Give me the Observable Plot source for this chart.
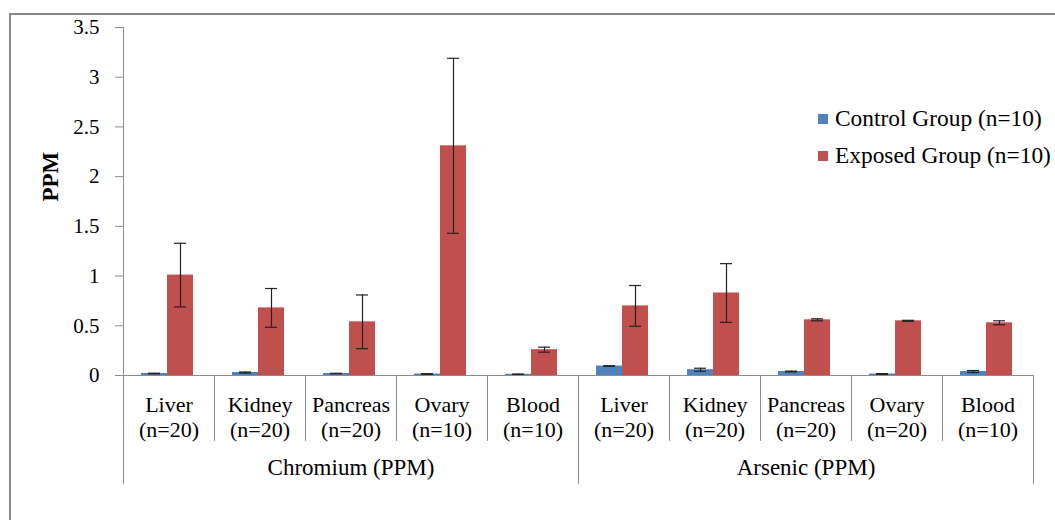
<!DOCTYPE html>
<html><head><meta charset="utf-8">
<script src="https://cdn.jsdelivr.net/npm/d3@7"></script>
<script src="https://cdn.jsdelivr.net/npm/@observablehq/plot@0.6"></script>
<style>
html,body{margin:0;padding:0;background:#fff;}
#wrap{position:relative;width:1055px;height:520px;overflow:hidden;background:#fff;}
#border{position:absolute;left:9px;top:13px;width:2000px;height:2000px;border-left:2px solid #898989;border-top:2px solid #898989;pointer-events:none;}
#legend{position:absolute;left:818px;top:106px;font-size:23.4px;color:#000;}
.row{display:flex;align-items:center;height:24px;white-space:nowrap;}
.row + .row{margin-top:13.3px;}
.sw{width:10px;height:10px;margin-right:7px;position:relative;top:1px;}
</style></head><body><div id="wrap"><div id="border"></div><div id="legend"></div></div>
<script>
const metals = ["Chromium (PPM)", "Arsenic (PPM)"];
const organs = ["Liver", "Kidney", "Pancreas", "Ovary", "Blood"];
const sampleSizes = [[20, 20, 20, 10, 10], [20, 20, 20, 20, 10]];
const seriesNames = ["Control Group (n=10)", "Exposed Group (n=10)"];
const controlMeans = [[0.02, 0.03, 0.02, 0.015, 0.012], [0.095, 0.058, 0.04, 0.015, 0.04]];
const controlErr   = [[0.003, 0.005, 0.002, 0.003, 0.002], [0.003, 0.015, 0.004, 0.004, 0.01]];
const exposedMeans = [[1.01, 0.68, 0.54, 2.31, 0.26], [0.70, 0.83, 0.56, 0.55, 0.53]];
const exposedErr   = [[0.32, 0.195, 0.27, 0.88, 0.025], [0.205, 0.295, 0.01, 0.005, 0.02]];
const yTicks = [0, 0.5, 1, 1.5, 2, 2.5, 3, 3.5];
const colors = ["#4F81BD", "#C0504D"];

const FONT = "'Liberation Serif', Tinos, 'Times New Roman', Times, serif";
document.getElementById("wrap").style.fontFamily = FONT;

const cats = [];
const rows = [];
metals.forEach((metal, gi) => {
  organs.forEach((organ, oi) => {
    const key = metal + "|" + organ;
    cats.push({key, metal, organ, n: sampleSizes[gi][oi], gi, oi});
    rows.push({key, series: seriesNames[0], mean: controlMeans[gi][oi], err: controlErr[gi][oi]});
    rows.push({key, series: seriesNames[1], mean: exposedMeans[gi][oi], err: exposedErr[gi][oi]});
  });
});

const W = 1055, H = 520, mL = 122, mR = 21, mT = 27, mB = 145;
const frameH = H - mT - mB;
const sepShort = 65, sepLong = 108;
const axisGray = "#8c8c8c";
const lineShape = {draw(ctx, l) { ctx.moveTo(0, 0); ctx.lineTo(0, -l); }};
const firstCat = cats.filter(c => c.gi === 0 && c.oi === 0);
const groupStarts = cats.filter(c => c.gi > 0 && c.oi === 0);
const lastCat = cats.filter(c => c.gi === metals.length - 1 && c.oi === organs.length - 1);
const midCats = cats.filter(c => c.oi === 2);
const sep = (data, frameAnchor, length) => Plot.vector(data, {fx: "key", frameAnchor, length, rotate: 180, anchor: "start", shape: lineShape, stroke: axisGray, strokeWidth: 1});

const chart = Plot.plot({
  width: W, height: H,
  marginLeft: mL, marginRight: mR, marginTop: mT, marginBottom: mB,
  style: {fontFamily: FONT, background: "transparent", overflow: "visible", color: "#000"},
  fx: {domain: cats.map(d => d.key), padding: 0, axis: null},
  x: {domain: seriesNames, paddingInner: 0, paddingOuter: 0.75, align: 0.47, axis: null},
  y: {domain: [0, 3.5], axis: null},
  color: {domain: seriesNames, range: colors},
  marks: [
    Plot.barY(rows, {fx: "key", x: "series", y: "mean", fill: "series"}),
    Plot.ruleX(rows, {fx: "key", x: "series", y1: d => d.mean - d.err, y2: d => d.mean + d.err, stroke: "#222", strokeWidth: 1.2}),
    Plot.tickY(rows, {fx: "key", x: "series", y: d => d.mean + d.err, insetLeft: 7, insetRight: 7, stroke: "#222", strokeWidth: 1.2}),
    Plot.tickY(rows, {fx: "key", x: "series", y: d => d.mean - d.err, insetLeft: 7, insetRight: 7, stroke: "#222", strokeWidth: 1.2}),
    Plot.ruleY([0], {stroke: axisGray, strokeWidth: 1}),
    Plot.axisY(yTicks, {tickFormat: d => String(d), tickSize: 8, tickPadding: 16, fontSize: 21, stroke: axisGray, fill: "#000", label: null}),
    sep(cats, "bottom-left", sepShort),
    sep(firstCat, "top-left", frameH + sepLong),
    sep(groupStarts, "bottom-left", sepLong),
    sep(lastCat, "bottom-right", sepLong),
    Plot.text(cats, {fx: "key", frameAnchor: "bottom", lineAnchor: "top", dy: 19.5, text: d => `${d.organ}\n(n=${d.n})`, fontSize: 22, lineHeight: 1.11, fill: "#000"}),
    Plot.text(midCats, {fx: "key", frameAnchor: "bottom", lineAnchor: "top", dy: 83, text: d => d.metal, fontSize: 23, fill: "#000"}),
    Plot.text(firstCat, {fx: "key", frameAnchor: "left", dx: -73, rotate: -90, text: () => "PPM", fontSize: 23, fontWeight: "bold", fill: "#000"})
  ]
});
const wrap = document.getElementById("wrap");
wrap.insertBefore(chart, wrap.firstChild);
chart.style.position = "absolute";
chart.style.left = "0px";
chart.style.top = "0px";

const colorScale = chart.scale("color");
const legend = document.getElementById("legend");
colorScale.domain.forEach((name, i) => {
  const row = document.createElement("div");
  row.className = "row";
  const sw = document.createElement("span");
  sw.className = "sw";
  sw.style.background = colorScale.range[i];
  const tx = document.createElement("span");
  tx.textContent = name;
  row.appendChild(sw);
  row.appendChild(tx);
  legend.appendChild(row);
});
</script>
</body></html>
